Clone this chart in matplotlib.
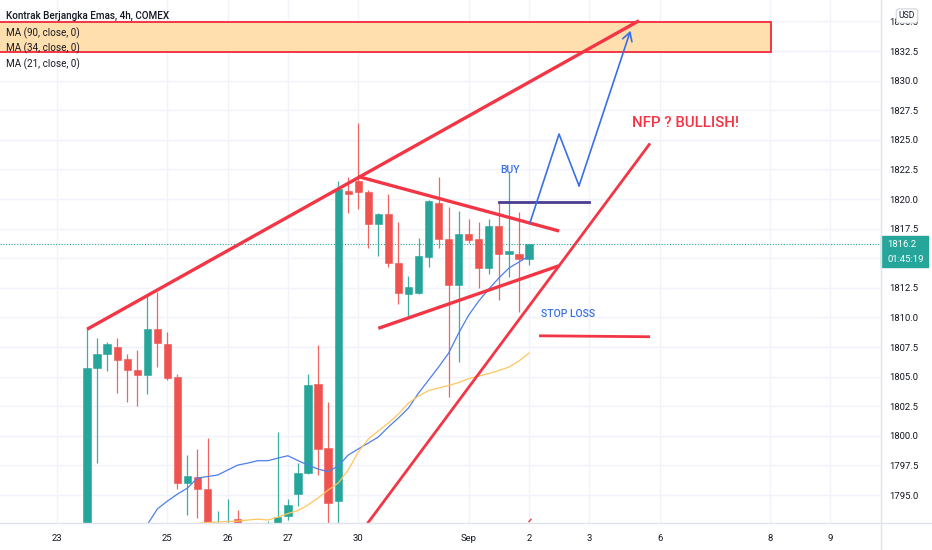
import numpy as np
import matplotlib
matplotlib.use('Agg')
import matplotlib.pyplot as plt
from matplotlib.patches import Rectangle
from matplotlib.lines import Line2D
import matplotlib.transforms as mtrans

plt.rcParams['font.family'] = ['Roboto', 'DejaVu Sans']

# ---------------- data ----------------
opens = [1788.0, 1805.75, 1806.9, 1807.5, 1806.5, 1805.55, 1805.1, 1809.0, 1807.75, 1805.0,
         1796.05, 1796.5, 1795.5, 1790.8, 1791.2, 1792.95, 1791.6, 1790.9, 1791.6, 1792.0,
         1793.2, 1795.1, 1796.85, 1804.35, 1798.95, 1794.5, 1820.7, 1821.5, 1820.6, 1817.9,
         1818.75, 1814.6, 1812.0, 1812.05, 1815.1, 1819.7, 1816.6, 1812.75, 1817.05, 1816.65,
         1814.15, 1817.7, 1815.35, 1815.4, 1814.9]
highs = [1809.0, 1808.3, 1807.95, 1808.3, 1806.95, 1807.25, 1811.9, 1812.15, 1808.8, 1805.2,
         1798.4, 1798.85, 1799.8, 1793.65, 1794.7, 1793.75, 1792.3, 1792.4, 1792.8, 1800.35,
         1794.7, 1797.7, 1805.2, 1807.65, 1802.85, 1821.55, 1821.9, 1826.45, 1820.8, 1818.8,
         1820.4, 1818.05, 1813.5, 1816.75, 1819.95, 1821.85, 1819.3, 1819.0, 1818.3, 1818.1,
         1818.35, 1819.65, 1822.25, 1818.9, 1816.2]
lows = [1787.0, 1797.7, 1805.5, 1803.65, 1802.85, 1802.55, 1803.5, 1805.8, 1804.7, 1795.5,
        1793.35, 1793.05, 1790.5, 1790.2, 1790.6, 1791.5, 1790.4, 1790.5, 1791.2, 1791.8,
        1792.9, 1794.1, 1796.8, 1796.7, 1791.8, 1791.8, 1818.8, 1819.2, 1815.9, 1815.15,
        1814.25, 1811.1, 1810.0, 1812.0, 1814.3, 1815.9, 1803.3, 1806.2, 1816.3, 1812.5,
        1813.65, 1811.45, 1813.45, 1810.5, 1814.45]
closes = [1805.7, 1806.9, 1807.75, 1806.4, 1805.55, 1805.1, 1809.0, 1807.8, 1804.85, 1796.05,
          1796.65, 1795.55, 1791.5, 1792.0, 1792.3, 1792.2, 1790.9, 1792.0, 1792.5, 1793.15,
          1794.2, 1796.9, 1804.3, 1798.9, 1794.35, 1820.85, 1820.4, 1820.6, 1817.85, 1818.75,
          1814.6, 1812.1, 1812.6, 1815.2, 1819.8, 1816.6, 1812.75, 1817.05, 1816.55, 1814.2,
          1817.7, 1815.35, 1815.65, 1814.9, 1816.2]

ma21_start = 6
ma21 = [1792.5, 1793.82, 1794.49, 1795.08, 1795.59, 1796.44, 1796.56, 1796.69, 1797.11, 1797.53,
        1797.70, 1797.90, 1797.90, 1798.12, 1798.32, 1797.91, 1797.53, 1797.20, 1796.97, 1797.45,
        1798.38, 1798.89, 1799.39, 1799.90, 1800.75, 1801.51, 1802.35, 1803.61, 1804.71, 1805.81,
        1806.99, 1808.68, 1810.20, 1811.39, 1812.40, 1813.33, 1814.17, 1814.68, 1815.19]
ma34_start = 11
ma34 = [1792.6, 1792.68, 1792.72, 1792.76, 1792.80, 1792.89, 1792.97, 1792.89, 1793.14, 1793.44,
        1793.69, 1794.16, 1794.75, 1795.42, 1796.01, 1797.11, 1798.63, 1799.73, 1800.41, 1801.08,
        1801.84, 1802.77, 1803.36, 1803.83, 1804.04, 1804.25, 1804.50, 1804.84, 1805.05, 1805.26,
        1805.52, 1805.81, 1806.32, 1806.99]

day_ticks = [-3, 8, 14, 20, 27, 38, 44, 50, 57, 68, 74]
day_labels = ['23', '25', '26', '27', '30', 'Sep', '2', '3', '6', '8', '9']
price_ticks = [1795.0, 1797.5, 1800.0, 1802.5, 1805.0, 1807.5, 1810.0, 1812.5, 1815.0,
               1817.5, 1820.0, 1822.5, 1825.0, 1827.5, 1830.0, 1832.5, 1835.0]
# 1815.0 is hidden behind the last-price label in the original
price_labels = ['' if p == 1815.0 else f'{p:.1f}' for p in price_ticks]

# drawings (candle index, price)
upper_channel = ([0, 54.95], [1809.0, 1835.06])
tri_top = ([27, 47], [1821.9, 1817.3])
tri_bottom = ([29, 47], [1809.08, 1814.37])
steep_line = ([26, 56.05], [1790.41, 1824.7])
zone = (-12, 68.1, 1832.39, 1834.92)
buy_level = ([41, 50], [1819.72, 1819.72])
stop_level = ([45, 56.05], [1808.45, 1808.37])
path_x = [44.1, 46.99, 48.98]
path_y = [1818.0, 1825.49, 1821.12]
arrow_tip = (54.1, 1834.21)
last_price = 1816.2

# ---------------- figure ----------------
W, H = 932, 550
fig = plt.figure(figsize=(W / 100, H / 100), dpi=100)
fig.patch.set_facecolor('white')
ax = fig.add_axes([0, 27 / H, 881 / W, 523 / H])
ax.set_xlim(-8.66, 79.04)
ax.set_ylim(1792.64, 1836.81)

GRID = '#F0F3FA'
TXT = '#131722'
GREEN = '#26A69A'
RED_C = '#EF5350'
RED = '#F23645'
BLUE = '#3A6FE6'

ax.set_yticks(price_ticks)
ax.set_yticklabels(price_labels)
ax.set_xticks(day_ticks)
ax.set_xticklabels(day_labels)
ax.yaxis.tick_right()
ax.tick_params(axis='y', length=0, pad=6, labelsize=6.8, colors=TXT)
ax.tick_params(axis='x', length=0, pad=8, labelsize=6.8, colors=TXT)
ax.grid(True, color=GRID, linewidth=1.0, zorder=0)
ax.set_axisbelow(True)
for s in ax.spines.values():
    s.set_visible(False)

# candles
idx = np.arange(len(opens))
o = np.array(opens); c = np.array(closes); h = np.array(highs); l = np.array(lows)
up = c >= o
cols = np.where(up, GREEN, RED_C)
ax.vlines(idx, l, h, colors=cols, linewidth=0.9, alpha=0.9, zorder=2)
body_bottom = np.minimum(o, c)
body_h = np.maximum(np.abs(c - o), 0.12)
ax.bar(idx, body_h, bottom=body_bottom, width=0.72, color=cols, edgecolor=cols,
       linewidth=0.4, zorder=3)

# moving averages
ax.plot(np.arange(ma21_start, ma21_start + len(ma21)), ma21, color='#4C7FEA', lw=0.9, zorder=4)
ax.plot(np.arange(ma34_start, ma34_start + len(ma34)), ma34, color='#FFC65C', lw=0.9, zorder=4)

# last price dotted line
ax.axhline(last_price, color=GREEN, lw=0.8, ls=(0, (1, 1.5)), zorder=1)

# zone rectangle
zx0, zx1, zy0, zy1 = zone
ax.add_patch(Rectangle((zx0, zy0), zx1 - zx0, zy1 - zy0, facecolor='#FFDFAE',
                       edgecolor=RED, linewidth=1.4, zorder=5))

# drawn lines
for (xs, ys), lw in [(upper_channel, 2.4), (tri_top, 2.4), (tri_bottom, 2.4),
                     (steep_line, 2.0), (stop_level, 2.0)]:
    ax.plot(xs, ys, color=RED, lw=lw, solid_capstyle='butt', zorder=6)
ax.plot(*buy_level, color='#4B3D91', lw=2.0, zorder=6)
# tiny red stub near bottom
ax.plot([44.0, 44.2], [1792.75, 1792.95], color=RED, lw=1.0, zorder=6)

ax.plot(path_x, path_y, color=BLUE, lw=1.2, zorder=7)
ax.annotate('', xy=arrow_tip, xytext=(path_x[-1], path_y[-1]),
            arrowprops=dict(arrowstyle='->,head_length=0.6,head_width=0.35', color=BLUE, lw=1.2,
                            shrinkA=0, shrinkB=0), zorder=7)

ax.text(42.1, 1822.45, 'BUY', color=BLUE, fontsize=7.5, fontweight='medium',
        ha='center', va='center', zorder=8)
ax.text(45.2, 1810.29, 'STOP LOSS', color=BLUE, fontsize=7.5, fontweight='medium',
        ha='left', va='center', zorder=8)
ax.text(54.26, 1826.42, 'NFP ? BULLISH!', color=RED, fontsize=10.8, fontweight='medium',
        ha='left', va='center', zorder=8)

# price label on axis
blend = mtrans.blended_transform_factory(ax.transAxes, ax.transData)
ax.add_patch(Rectangle((1.0, last_price - 1.94), 47 / 881, 2.62, transform=blend,
                       facecolor=GREEN, edgecolor=GREEN, clip_on=False, zorder=20))
ax.text(1.003 + 4 / 881, last_price, f'{last_price:.1f}', transform=blend, color='white',
        fontsize=6.8, ha='left', va='center', clip_on=False, zorder=21)
ax.text(1.003 + 4 / 881, last_price - 1.3, '01:45:19', transform=blend, color='white',
        fontsize=6.8, ha='left', va='center', clip_on=False, zorder=21)

# frame lines of the price / time scales
fig.add_artist(Line2D([0, 1], [27 / H, 27 / H], color='#E0E3EB', lw=1.0, transform=fig.transFigure))
fig.add_artist(Line2D([881 / W, 881 / W], [0, 1], color='#E0E3EB', lw=1.0, transform=fig.transFigure))

# USD box
fig.text(907 / W, 1 - 16 / H, 'USD', fontsize=6.2, color=TXT, ha='center', va='center',
         bbox=dict(boxstyle='round,pad=0.3,rounding_size=0.3', fc='white', ec='#C9CCD3', lw=0.7))

# header legend
fig.text(6 / W, 1 - 16 / H, 'Kontrak Berjangka Emas, 4h, COMEX', fontsize=7.1, color=TXT,
         ha='left', va='center', fontweight='medium')
for i, lab in enumerate(['MA (90, close, 0)', 'MA (34, close, 0)', 'MA (21, close, 0)']):
    fig.text(6 / W, 1 - (33 + 15.5 * i) / H, lab, fontsize=7.1, color=TXT, ha='left', va='center')

fig.savefig('out.png', dpi=100, facecolor='white')
